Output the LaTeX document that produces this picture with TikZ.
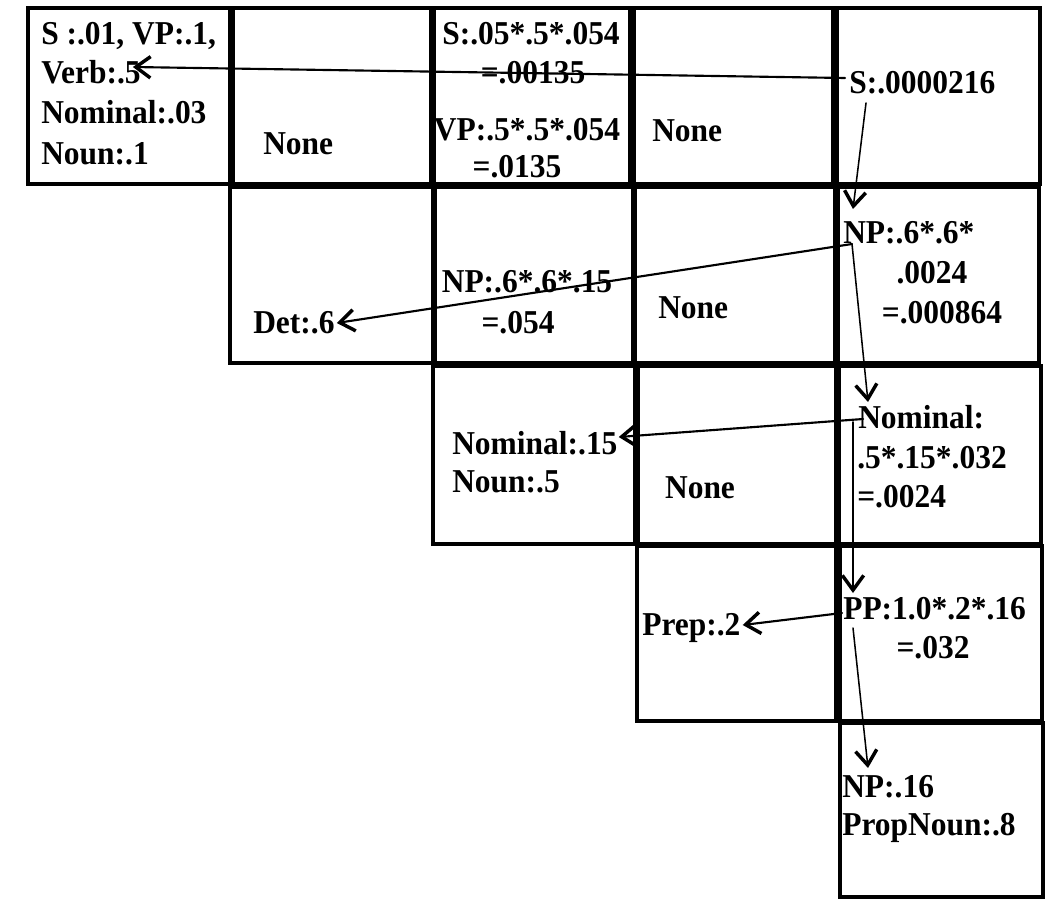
\documentclass[tikz,border=0pt]{standalone}
\usepackage{fontspec}
\setmainfont{Liberation Serif}
\usetikzlibrary{arrows.meta}

\begin{document}
\begin{tikzpicture}[x=0.75pt,y=-0.75pt,>={Straight Barb[length=11pt,width=16pt,line width=2.6pt]},
  font=\fontsize{23.6}{28}\selectfont\bfseries,line cap=round,
  cell/.style={line width=2.7pt},
  txt/.style={inner sep=0pt,anchor=base west,yscale=1.06},
  ctxt/.style={inner sep=0pt,anchor=base,yscale=1.06},
  link/.style={->,line width=1.6pt},
  thinlink/.style={->,line width=1.15pt}]
\useasboundingbox (0,0) rectangle (1052,903);
\draw[cell] (28,8) rectangle (230,184);
\draw[cell] (233,8) rectangle (431,184);
\draw[cell] (434,8) rectangle (630,184);
\draw[cell] (634,8) rectangle (833,184);
\draw[cell] (837,8) rectangle (1040,184);
\draw[cell] (230,187) rectangle (433,363);
\draw[cell] (435,187) rectangle (633,363);
\draw[cell] (635,187) rectangle (835,363);
\draw[cell] (838,187) rectangle (1039,363);
\draw[cell] (433,366) rectangle (635,544);
\draw[cell] (638,366) rectangle (836,544);
\draw[cell] (839,366) rectangle (1041,544);
\draw[cell] (637,546) rectangle (836,721);
\draw[cell] (840,546) rectangle (1042,721);
\draw[cell] (840,723) rectangle (1043,897);
\node[txt] (s11) at (41,44) {S :.01, VP:.1,};
\node[txt] (verb11) at (41,83) {Verb:.5};
\node[txt] (nom11) at (41,123) {Nominal:.03};
\node[txt] (noun11) at (41,164) {Noun:.1};
\node[txt] (none12) at (263,154) {None};
\node[ctxt] (s13) at (531,44) {S:.05*.5*.054};
\node[ctxt] (s13b) at (533,83) {=.00135};
\node[ctxt] (vp13) at (527,140) {VP:.5*.5*.054};
\node[ctxt] (vp13b) at (517,177) {=.0135};
\node[txt] (none14) at (652,141) {None};
\node[txt] (s15) at (849,93) {S:.0000216};
\node[txt] (det22) at (253,333) {Det:.6};
\node[ctxt] (np23) at (527,292) {NP:.6*.6*.15};
\node[ctxt] (np23b) at (518,333) {=.054};
\node[txt] (none24) at (658,318) {None};
\node[txt] (np25) at (843,243) {NP:.6*.6*};
\node[ctxt] (np25b) at (932,283) {.0024};
\node[ctxt] (np25c) at (942,323) {=.000864};
\node[txt] (nom33) at (452,454) {Nominal:.15};
\node[txt] (noun33) at (452,492) {Noun:.5};
\node[ctxt] (none34) at (700,498) {None};
\node[txt] (nom35) at (858,428) {Nominal:};
\node[txt] (nom35b) at (857,468) {.5*.15*.032};
\node[txt] (nom35c) at (857,507) {=.0024};
\node[txt] (prep44) at (642,635) {Prep:.2};
\node[txt] (pp45) at (843,619) {PP:1.0*.2*.16};
\node[ctxt] (pp45b) at (933,658) {=.032};
\node[txt] (np55) at (842,797) {NP:.16};
\node[txt] (pn55) at (842,835) {PropNoun:.8};
\coordinate (j25) at ([shift={(9,1)}]np25.base west);
\coordinate (j35) at ([shift={(5,-9)}]nom35.base west);
\draw[link] ([shift={(-4,-15)}]s15.base west) -- ([shift={(-8,-16)}]verb11.base east);
\draw[thinlink] ([shift={(17,10)}]s15.base west) -- ([shift={(10,-34)}]np25.base west);
\draw[link] (j25) -- ([shift={(2,-10)}]det22.base east);
\draw[thinlink] (j25) -- ([shift={(10,-26)}]nom35.base west);
\draw[link] (j35) -- ([shift={(1,-17)}]nom33.base east);
\draw[thinlink] ([shift={(-5,-6)}]nom35.base west) -- ([shift={(10,-26)}]pp45.base west);
\draw[link] ([shift={(-1,-6)}]pp45.base west) -- ([shift={(2,-10)}]prep44.base east);
\draw[thinlink] ([shift={(10,9)}]pp45.base west) -- ([shift={(26,-29)}]np55.base west);
\end{tikzpicture}
\end{document}
